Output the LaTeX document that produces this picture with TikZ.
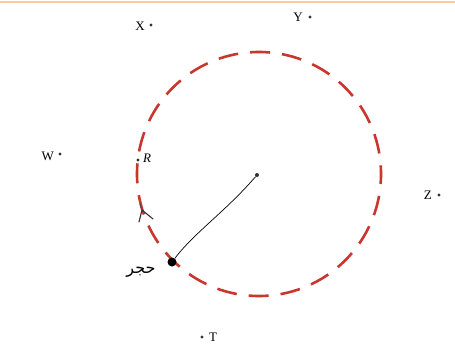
\documentclass[tikz,border=0pt]{standalone}
\usepackage{fontspec}
\setmainfont{Liberation Serif}
\newfontfamily\arabicfont[Script=Arabic]{DejaVu Sans}
\TeXXeTstate=1
\definecolor{orbitred}{RGB}{200,55,45}
\tikzset{
  pt/.style={circle,fill=black!80,inner sep=0pt,minimum size=3.4pt},
  lab/.style={font=\fontsize{13}{15}\selectfont,inner sep=1pt},
}
\begin{document}
\begin{tikzpicture}[x=1pt,y=-1pt]
\useasboundingbox (0,0) rectangle (455,356);
\fill[white] (0,0) rectangle (455,356);
\draw[orange!40,line width=1.2pt] (0,2) -- (455,2);
% orbit
\draw[orbitred,line width=2.6pt,dash pattern=on 20pt off 12pt,dash phase=10pt] (259,174) circle[radius=122];
% points
\node[pt] (x) at (151,25) {};
\node[lab,anchor=east] (xl) at (146,26) {X};
\node[pt] (y) at (310,17) {};
\node[lab,anchor=east] (yl) at (304,17) {Y};
\node[pt] (w) at (60,154) {};
\node[lab,anchor=east] (wl) at (55,156) {W};
\node[pt] (z) at (439,195) {};
\node[lab,anchor=east] (zl) at (433,195) {Z};
\node[pt] (t) at (202,337) {};
\node[lab,anchor=west] (tl) at (208,337) {T};
\node[pt] (r) at (138,160) {};
\node[lab,anchor=west,font=\fontsize{13}{15}\selectfont\itshape] (rl) at (142,158) {R};
% center and stone
\node[pt,minimum size=4pt] (c) at (257,175) {};
\node[circle,fill=black,inner sep=0pt,minimum size=9pt] (s) at (172,262) {};
\draw[black,line width=0.7pt] (s) .. controls (195,232) and (225,212) .. (c);
% direction arrowhead on the orbit
\coordinate (tip) at (142,210);
\coordinate (b1) at (139,222);
\coordinate (b2) at (153,219);
\draw[black!80,line width=1.1pt,line cap=round,line join=round] (b1) -- (tip) -- (b2);
\draw[black!70,line width=1.1pt] (tip) -- (140,204);
% arabic label
\node[inner sep=0pt,font=\arabicfont\fontsize{16}{18}\selectfont] (stonelabel) at (141,272) {\beginR حجر\endR};
\end{tikzpicture}
\end{document}
